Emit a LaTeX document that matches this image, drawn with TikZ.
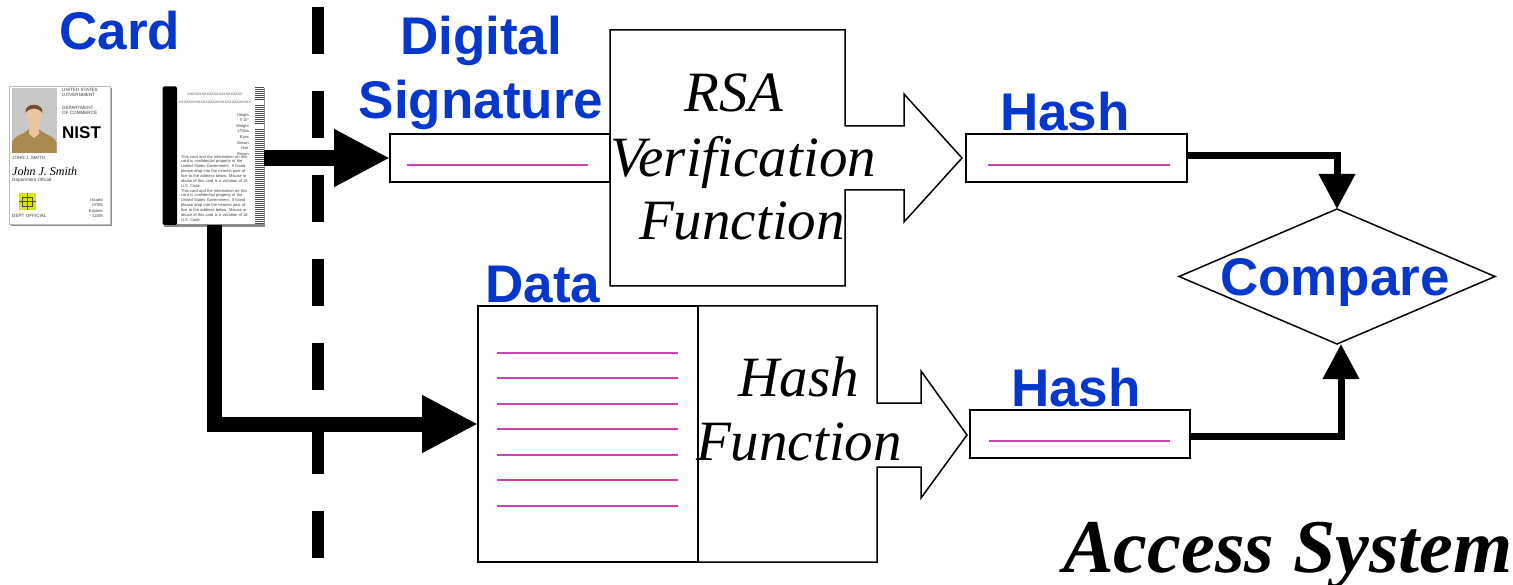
\documentclass[tikz,border=0pt]{standalone}
\usepackage{fontspec}
\setmainfont{Liberation Sans}
\newfontfamily\serifit{Liberation Serif}
\usetikzlibrary{arrows.meta,shapes.geometric}
\definecolor{lblue}{HTML}{0537CC}
\definecolor{lmag}{HTML}{D040B0}
\definecolor{tan1}{HTML}{A98A50}
\definecolor{skin}{HTML}{E8C4A0}
\definecolor{hair}{HTML}{6A5230}
\tikzset{
  lab/.style={anchor=base,inner sep=0,text=lblue,font=\fontsize{53}{53}\selectfont\bfseries},
  fn/.style={anchor=base,inner sep=0,font=\fontsize{57}{57}\selectfont\serifit\itshape},
  box/.style={draw,line width=1.5pt,fill=white,rectangle,inner sep=0,outer sep=0},
  blockshape/.style={draw,line width=1.5pt,fill=white,line join=miter},
  magline/.style={draw=lmag,line width=1.2pt},
  bigarrow/.style={line width=15pt,-{Triangle[length=56pt,width=54pt]}},
  medarrow/.style={line width=7pt,-{Triangle[length=35pt,width=35pt]}},
  tiny/.style={anchor=north west,inner sep=0,font=\fontsize{4.6}{5.4}\selectfont,text=black!75,align=left},
  tinyr/.style={anchor=north east,inner sep=0,font=\fontsize{4.2}{5.2}\selectfont,text=black!75,align=right},
  cardbody/.style={rectangle,inner sep=0,outer sep=0,minimum width=101pt,minimum height=138pt},
}
\begin{document}
\begin{tikzpicture}[x=1pt,y=-1pt]
\fill[white] (0,0) rectangle (1513,585);
\useasboundingbox (0,0) rectangle (1513,585);
% dashed divider
\coordinate (divtop) at (318,7);
\coordinate (divbot) at (318,558);
\draw[line width=12pt,dash pattern=on 47pt off 37pt] (divtop) -- (divbot);
% card front
\fill[black!45] (11,88) rectangle (112,226);
\node[cardbody,fill=white,draw=black!25,line width=.6pt] (cardfront) at (59.5,155) {};
\fill[black!22] (12,88) rectangle (56.5,153);
\fill[tan1] (12,153) -- (12,142) .. controls (16,134) and (26,134) .. (29,129) -- (39,129) .. controls (42,134) and (52,134) .. (56.5,142) -- (56.5,153) -- cycle;
\fill[skin] (29,134) -- (29,122) -- (39,122) -- (39,134) -- (34,138) -- cycle;
\fill[skin] (34,114) ellipse (8pt and 11pt);
\fill[hair] (25.5,113) .. controls (24,102) and (44,102) .. (42.5,113) .. controls (38,107) and (30,107) .. (25.5,113) -- cycle;
\node[tiny] (t1) at (62,88) {UNITED STATES\\GOVERNMENT};
\node[tiny] (t2) at (62,106) {DEPARTMENT\\OF COMMERCE};
\node[anchor=west,inner sep=0,font=\fontsize{17}{17}\selectfont\bfseries] (nist) at (62,133) {NIST};
\node[tiny] (t3) at (12,156) {JOHN J. SMITH};
\node[anchor=west,inner sep=0,font=\fontsize{12}{12}\selectfont\serifit\itshape] (sign) at (12,171) {John J. Smith};
\node[tiny] (t4) at (12,178) {Department Official};
\fill[yellow!85!green] (18.5,193) rectangle (36,210);
\draw[black!70,line width=.5pt] (27,193) -- (27,210) (18.5,201.5) -- (36,201.5) (22,197) rectangle (32,206);
\node[tiny] (t5) at (12,214) {DEPT OFFICIAL};
\node[tinyr] (t6) at (103,198) {Issued\\07/05};
\node[tinyr] (t7) at (103,209) {Expires\\12/09};
% card back
\fill[black!45] (164,88) rectangle (265,227);
\node[cardbody,fill=white] (cardback) at (213,155.5) {};
\fill[black,rounded corners=1.5pt] (162.5,86.5) rectangle (177,225);
\foreach \y/\w in {87/1.2,89/.8,91/1.5,93/.7,95/1.2,97/.8,99/1,105/1.4,107/.7,109/1,111/1.4,113/.8,115/1,117/.7,119/1.4,121/.9,123/1.1,129/.8,131/1.4,133/1,135/.7,137/1.2,139/.9,141/1.3,143/.8,145/1.1,147/1.4,149/.8,151/1.2,153/.7,155/1.4,157/1,159/.8,161/1.3,163/.7,165/1.2,167/1,169/1.4,171/.8,173/1.1,175/.7,177/1.3,179/1,181/.8,183/1.4,185/.9,187/1.2,189/.7,191/1.4,193/1,195/.8,197/1.2,199/.9,201/1.4,203/.7,205/1.1,207/1.3,209/.8,211/1.2,213/1,215/.7,217/1.4,219/.9,221/1.2,223/1}
  \fill[black!70] (255,\y) rectangle (264,\y+\w);
\node[anchor=center,inner sep=0,font=\fontsize{3.6}{4}\selectfont,text=black!70] (b1) at (215,94) {XXXXXXXXXXXXXXXXXXXXXXX};
\node[anchor=center,inner sep=0,font=\fontsize{3.6}{4}\selectfont,text=black!70] (b2) at (215,102) {XXXXXXXXXXXXXXXXXXXXXXXXXXXXXX};
\node[tinyr,font=\fontsize{4}{5.6}\selectfont] (b3) at (249,113) {Height\\5'10"\\Weight\\170lbs\\Eyes\\Brown\\Hair\\Brown};
\node[tiny,font=\fontsize{4}{4.9}\selectfont,text width=70pt] (b4) at (181,155) {This card and the information on this card is confidential property of the United States Government. If found please drop into the nearest post office to the address below. Misuse or abuse of this card is a violation of 18 U.S. Code.};
\node[tiny,font=\fontsize{4}{4.9}\selectfont,text width=70pt] (b5) at (181,189) {This card and the information on this card is confidential property of the United States Government. If found please drop into the nearest post office to the address below. Misuse or abuse of this card is a violation of 18 U.S. Code.};
% boxes
\node[box,minimum width=220pt,minimum height=48pt] (sig) at (500,158) {};
\draw[blockshape] (610,30) -- (845,30) -- (845,126) -- (904,126) -- (904,94) -- (962,158) -- (904,222) -- (904,190) -- (845,190) -- (845,286) -- (610,286) -- cycle;
\node[box,minimum width=221pt,minimum height=48pt] (hashtop) at (1076.5,158) {};
\node[box,minimum width=220pt,minimum height=256pt] (data) at (588,434) {};
\draw[blockshape] (698,306) -- (877,306) -- (877,403) -- (921,403) -- (921,371) -- (967,435) -- (921,498) -- (921,467) -- (877,467) -- (877,562) -- (698,562) -- cycle;
\node[box,minimum width=220pt,minimum height=48pt] (hashbot) at (1080,434) {};
\node[diamond,draw,line width=1.5pt,fill=white,aspect=2.34,inner sep=0,outer sep=0,minimum width=316pt,minimum height=135pt] (cmp) at (1337,276.5) {};
% magenta rules
\draw[magline] (407,165) -- (588,165);
\draw[magline] (988,165) -- (1170,165);
\draw[magline] (989,441) -- (1170,441);
\foreach \y in {353,378,404,429,455,480,506} \draw[magline] (497,\y) -- (678,\y);
% connectors
\draw[bigarrow,line width=16pt] (cardback.east|-sig.west) -- (sig.west);
\draw[bigarrow,line join=miter] (214,225) -- (214,424) -- (data.west|-0,424);
\draw[medarrow,line join=miter] (hashtop.east|-0,156) -- (cmp.north|-0,156) -- (cmp.north);
\draw[medarrow,line join=miter] (hashbot.east|-0,436) -- (1341,436) -- (1341,344);
% labels
\node[lab] (lcard) at (120,50) {Card};
\node[lab] (ldig) at (481,55) {Digital};
\node[lab] (lsig) at (481,119) {Signature};
\node[lab] (lhash1) at (1065,131) {Hash};
\node[lab] (lhash2) at (1076,406) {Hash};
\node[lab] (ldata) at (543,303) {Data};
\node[lab] (lcmp) at (1335,296) {Compare};
\node[fn] (frsa) at (734,112) {RSA};
\node[fn] (fver) at (743,177) {Verification};
\node[fn] (ffun) at (742,240) {Function};
\node[fn] (fhash) at (799,396) {Hash};
\node[fn] (ffun2) at (799,460) {Function};
\node[anchor=base,inner sep=0,font=\fontsize{76}{76}\selectfont\serifit\bfseries\itshape] (sys) at (1288,572) {Access System};
\end{tikzpicture}
\end{document}
